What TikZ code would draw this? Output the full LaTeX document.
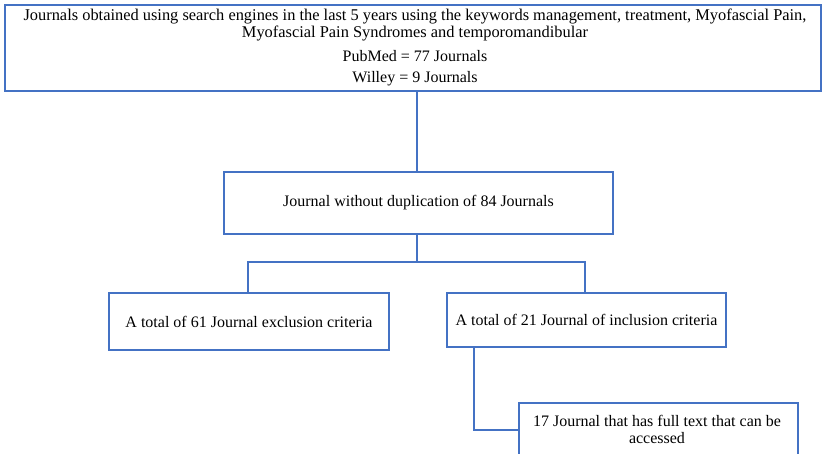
\documentclass[tikz,border=0pt]{standalone}
\usepackage{fontspec}
\setmainfont{Liberation Serif}
\begin{document}
\begin{tikzpicture}[x=1pt,y=-1pt,
  bx/.style={draw=lineblue,line width=2pt,fill=white,inner sep=0pt,anchor=north west},
  conn/.style={draw=lineblue,line width=2pt},
  txt/.style={font=\fontsize{16pt}{17pt}\selectfont,align=center,text=black}]
\definecolor{lineblue}{RGB}{68,114,196}
\useasboundingbox (0,0) rectangle (822,454);
\clip (0,0) rectangle (822,454);
\node[bx,minimum width=816pt,minimum height=86pt] (top) at (4,4) {};
\node[txt,font=\fontsize{16.4pt}{17pt}\selectfont] (t1) at (415,25) {Journals obtained using search engines in the last 5 years using the keywords management, treatment, Myofascial Pain,\\Myofascial Pain Syndromes and temporomandibular};
\node[txt] (t2) at (415,56) {PubMed = 77 Journals};
\node[txt] (t3) at (415,79) {Willey = 9 Journals};
\node[bx,minimum width=389pt,minimum height=62pt] (dup) at (223,171) {};
\node[txt] at (dup.center) {Journal without duplication of 84 Journals};
\node[bx,minimum width=280pt,minimum height=57pt] (exc) at (108,292) {};
\node[txt] at (exc.center) {A total of 61 Journal exclusion criteria};
\node[bx,minimum width=279pt,minimum height=54pt] (inc) at (446,292) {};
\node[txt] at (inc.center) {A total of 21 Journal of inclusion criteria};
\node[bx,minimum width=279pt,minimum height=70pt] (full) at (518,402) {};
\node[txt] at (657,429) {17 Journal that has full text that can be\\accessed};
\coordinate (split) at (417,262);
\draw[conn] (top.south -| split) -- (dup.north -| split);
\draw[conn] (dup.south -| split) -- (split) -| (exc.north -| 248,0);
\draw[conn] (split) -| (inc.north -| 585,0);
\draw[conn] (inc.south -| 474,0) |- (full.west |- 0,430);
\end{tikzpicture}
\end{document}
